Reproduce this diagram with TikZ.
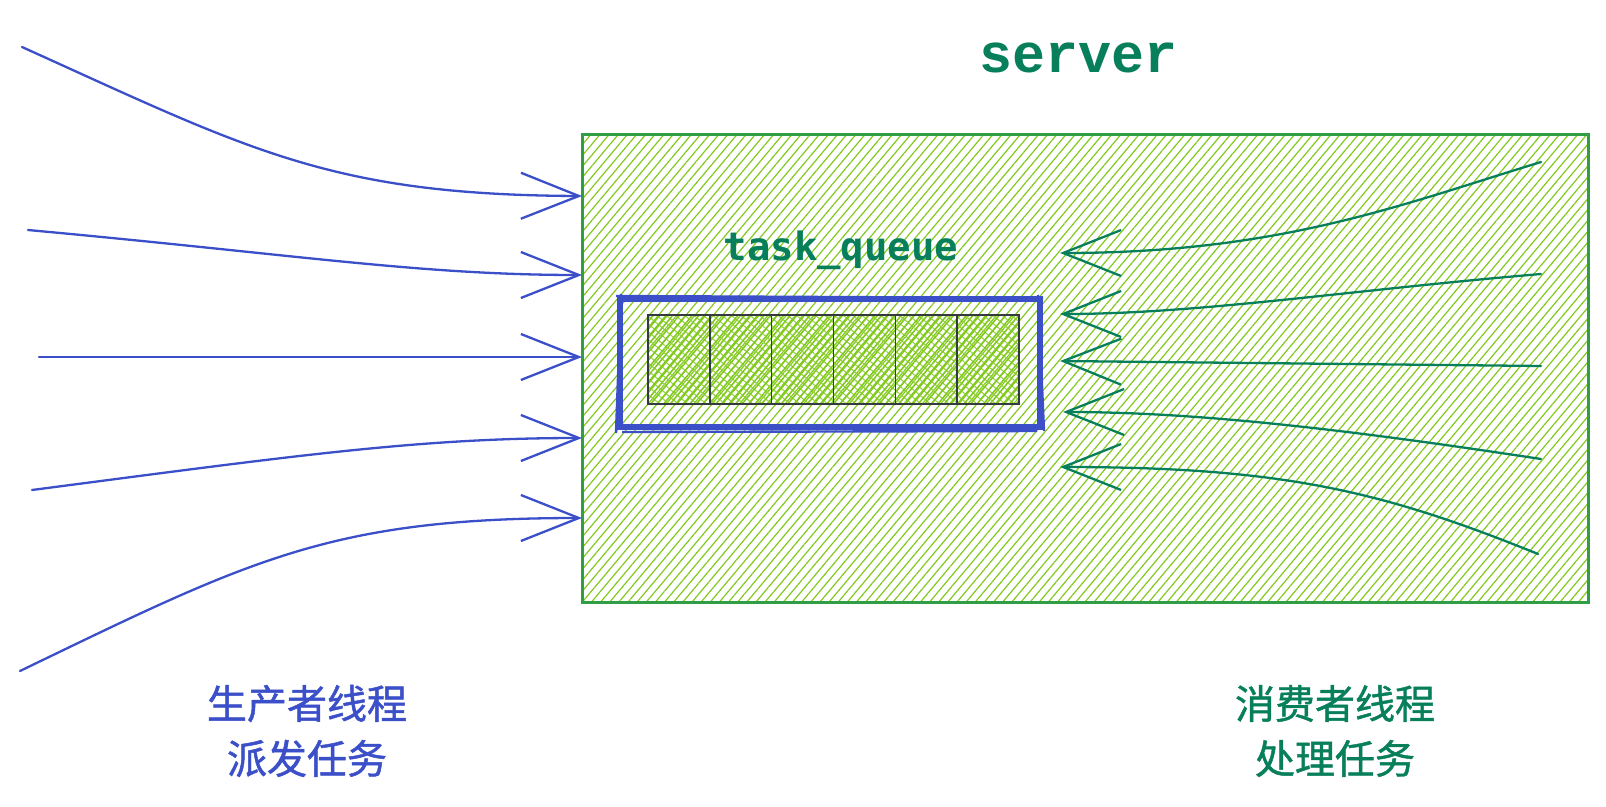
\documentclass[tikz,border=0pt]{standalone}
\usepackage{fontspec}
\newfontfamily\cjk[FakeBold=1.2]{Noto Sans CJK SC}
\newfontfamily\srvmono{Liberation Mono}
\newfontfamily\qmono{DejaVu Sans Mono}
\usetikzlibrary{arrows.meta,patterns.meta}
\definecolor{prodblue}{HTML}{3B4FC8}
\definecolor{consgreen}{HTML}{087F5B}
\definecolor{srvborder}{HTML}{2F9E44}
\definecolor{hatchgreen}{HTML}{82C91E}
\definecolor{cellline}{HTML}{343A40}
\begin{document}
\begin{tikzpicture}[x=1pt,y=-1pt,
  prodarrow/.style={draw=prodblue, line width=2.3pt, line cap=round,
    -{Straight Barb[length=58pt,width=46pt,line width=2.3pt]}},
  consarrow/.style={draw=consgreen, line width=2.3pt, line cap=round,
    -{Straight Barb[length=58pt,width=46pt,line width=2.3pt]}},
  srvbox/.style={draw=srvborder, line width=3pt, inner sep=0pt, outer sep=0pt,
    pattern={Lines[angle=50,distance=7pt,line width=1.2pt]}, pattern color=hatchgreen},
  qbox/.style={draw=prodblue, line width=5.5pt, inner sep=0pt, outer sep=0pt},
  cellbox/.style={draw=cellline, line width=1.6pt, inner sep=0pt, outer sep=0pt,
    minimum width=61.83pt, minimum height=89pt,
    pattern={Lines[angle=50,distance=5pt,line width=1.6pt]}, pattern color=hatchgreen},
  cellx/.style={inner sep=0pt, outer sep=0pt, minimum width=61.83pt, minimum height=89pt,
    pattern={Lines[angle=-40,distance=6pt,line width=1.1pt]}, pattern color=hatchgreen!85},
  titletext/.style={text=consgreen, font=\srvmono\bfseries\fontsize{55}{60}\selectfont},
  qtext/.style={text=consgreen, font=\qmono\bfseries\fontsize{39}{44}\selectfont},
  cjklabel/.style={align=center, font=\cjk\fontsize{40}{55}\selectfont}
]
\useasboundingbox (0,0) rectangle (1606,806);

% server box
\node[srvbox, minimum width=1006pt, minimum height=468pt] (srv) at (1085,368) {};
\node[titletext] (srvtitle) at (1079,58) {server};

% task queue
\node[qtext] (qtitle) at (841,250) {task\_queue};
\foreach \i in {1,...,6} {
  \node[cellx] (cx\i) at ({648+61.83*(\i-0.5)},359.5) {};
  \node[cellbox] (c\i) at ({648+61.83*(\i-0.5)},359.5) {};
}
\node[qbox, minimum width=420pt, minimum height=128pt] (queue) at (830,363) {};
\draw[prodblue, line width=2.4pt] ([shift={(-4,-3)}]queue.north west) -- ([shift={(3,-1)}]queue.north east);
\draw[prodblue, line width=2.4pt] ([shift={(-4,6)}]queue.south west) -- ([shift={(1,-5)}]queue.north west);
\draw[prodblue, line width=2.4pt] ([shift={(2,5)}]queue.south west) -- ([shift={(-3,4)}]queue.south east);
\draw[prodblue, line width=2.4pt] ([shift={(4,4)}]queue.south east) -- ([shift={(-2,-4)}]queue.north east);

% producer arrows
\coordinate (ps1) at (22,47);   \coordinate (pt1) at (srv.west |- 0,196);
\coordinate (ps2) at (28,230);  \coordinate (pt2) at (srv.west |- 0,275);
\coordinate (ps3) at (39,357);  \coordinate (pt3) at (srv.west |- 0,357);
\coordinate (ps4) at (32,490);  \coordinate (pt4) at (srv.west |- 0,438);
\coordinate (ps5) at (20,671);  \coordinate (pt5) at (srv.west |- 0,518);
\draw[prodarrow] (ps1) .. controls (250,150) and (330,195) .. (pt1);
\draw[prodarrow] (ps2) .. controls (300,255) and (420,275) .. (pt2);
\draw[prodarrow] (ps3) -- (pt3);
\draw[prodarrow] (ps4) .. controls (300,455) and (420,438) .. (pt4);
\draw[prodarrow] (ps5) .. controls (250,560) and (330,518) .. (pt5);

% consumer arrows
\coordinate (cs1) at (1541,162); \coordinate (ct1) at (1060,253);
\coordinate (cs2) at (1541,274); \coordinate (ct2) at (1060,314);
\coordinate (cs3) at (1541,366); \coordinate (ct3) at (1060,361);
\coordinate (cs4) at (1541,459); \coordinate (ct4) at (1063,412);
\coordinate (cs5) at (1538,554); \coordinate (ct5) at (1060,467);
\draw[consarrow] (cs1) .. controls (1400,205) and (1280,253) .. (ct1);
\draw[consarrow] (cs2) .. controls (1350,290) and (1200,314) .. (ct2);
\draw[consarrow] (cs3) -- (ct3);
\draw[consarrow] (cs4) .. controls (1350,430) and (1200,412) .. (ct4);
\draw[consarrow] (cs5) .. controls (1380,490) and (1280,467) .. (ct5);

% labels
\node[cjklabel, text=prodblue] (prodlabel) at (307,731) {生产者线程\\派发任务};
\node[cjklabel, text=consgreen] (conslabel) at (1335,731) {消费者线程\\处理任务};
\end{tikzpicture}
\end{document}
